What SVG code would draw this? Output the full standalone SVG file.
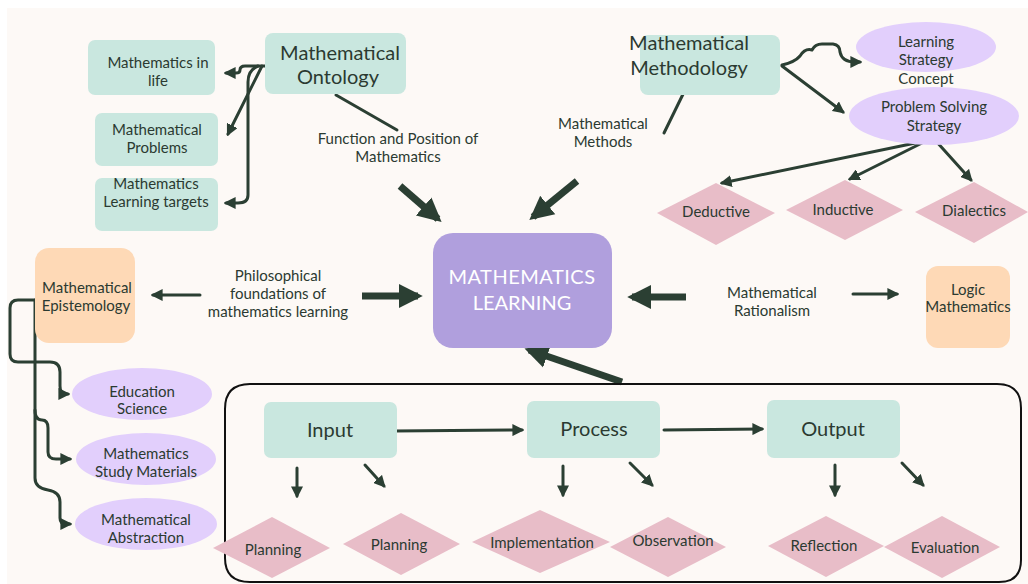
<svg xmlns="http://www.w3.org/2000/svg" width="1028" height="584" viewBox="0 0 1028 584">
<style>
.bg{fill:#fdf9f6}
.teal{fill:#c9e7df}
.lav{fill:#e2cffc}
.pink{fill:#e8bdc8}
.org{fill:#fed9b6}
.t{font-family:"Lato","Open Sans",sans-serif;fill:#2b3a31;text-anchor:middle}
.s15{font-size:15px}
.s14{font-size:14px}
.s20{font-size:20px}
.ln{fill:none;stroke:#2b3f33;stroke-width:3;stroke-linecap:round;stroke-linejoin:round}
.thick{fill:none;stroke:#2b3f33;stroke-width:7}
</style>
<defs>
<marker id="ah" viewBox="0 0 10 10" refX="8" refY="5" markerWidth="4" markerHeight="4" orient="auto" markerUnits="strokeWidth">
<path d="M0,0 L10,5 L0,10 z" fill="#2b3f33"/>
</marker>
<marker id="big" viewBox="0 0 10 10" refX="8" refY="5" markerWidth="3.4" markerHeight="3.6" orient="auto" markerUnits="strokeWidth">
<path d="M0,0 L10,5 L0,10 z" fill="#2b3f33"/>
</marker>
</defs>
<rect x="0" y="0" width="1028" height="584" fill="#ffffff"/>
<rect class="bg" x="7" y="8" width="1021" height="576"/>

<g id="connectors">
<!-- ontology -->
<path class="ln" d="M265,66 L245,66 Q240,66 240,70 Q240,73 236,73 L226,73" marker-end="url(#ah)"/>
<path class="ln" d="M262,66 L228,134" marker-end="url(#ah)"/>
<path class="ln" d="M258,66 Q248,70 248,82 L248,195 Q248,203 238,203 L226,203" marker-end="url(#ah)"/>
<path class="ln" d="M336,95 L397,130"/>
<path class="thick" d="M400,186 L438,219" marker-end="url(#big)"/>
<!-- methodology -->
<path class="ln" d="M688,84 L664,133"/>
<path class="thick" d="M577,181 L533,217" marker-end="url(#big)"/>
<path class="ln" d="M782,65 Q795,62 800,56 Q805,48 812,50 Q815,44 822,44 L833,44 Q840,45 840,52 Q842,62 855,62 L860,62" marker-end="url(#ah)"/>
<path class="ln" d="M782,66 L843,112" marker-end="url(#ah)"/>
<path class="ln" d="M930,140 L722,183" marker-end="url(#ah)"/>
<path class="ln" d="M928,140 L850,179" marker-end="url(#ah)"/>
<path class="ln" d="M935,140 L971,180" marker-end="url(#ah)"/>
<!-- epistemology -->
<path class="ln" d="M200,295 L153,295" marker-end="url(#ah)"/>
<path class="thick" d="M362,296 L418,296" marker-end="url(#big)"/>
<path class="ln" d="M35,300 L18,300 Q10,300 10,308 L10,354 Q10,362 18,362 L50,362 Q60,362 60,372 L60,386 Q60,394 66,394 L68,394" marker-end="url(#ah)"/>
<path class="ln" d="M35,300 L35,410 Q35,420 42,420 Q48,420 48,428 L48,452 Q48,459 56,459 L70,459" marker-end="url(#ah)"/>
<path class="ln" d="M35,410 L35,478 Q35,488 48,490 Q60,492 60,502 L60,518 Q60,524 66,524 L70,524" marker-end="url(#ah)"/>
<!-- rationalism -->
<path class="thick" d="M686,297 L632,297" marker-end="url(#big)"/>
<path class="ln" d="M853,294 L897,294" marker-end="url(#ah)"/>
<!-- process box to center -->
<path class="thick" d="M622,382 L529,350" marker-end="url(#big)"/>
<!-- flow -->
<path class="ln" d="M394,431 L522,430" marker-end="url(#ah)"/>
<path class="ln" d="M664,430 L762,429" marker-end="url(#ah)"/>
<path class="ln" d="M297,468 L297,496" marker-end="url(#ah)"/>
<path class="ln" d="M365,465 L384,486" marker-end="url(#ah)"/>
<path class="ln" d="M563,466 L563,495" marker-end="url(#ah)"/>
<path class="ln" d="M630,463 L652,485" marker-end="url(#ah)"/>
<path class="ln" d="M835,465 L835,495" marker-end="url(#ah)"/>
<path class="ln" d="M902,463 L923,485" marker-end="url(#ah)"/>
</g>

<g id="frame">
<path d="M250,384 L997,384 Q1021,384 1021,408 L1021,560 Q1021,582 999,582 L250,582 Q225,582 225,558 L225,409 Q225,384 250,384 Z" fill="none" stroke="#111" stroke-width="2"/>
</g>

<g id="ontology"><rect class="teal" x="265" y="33" width="141" height="61" rx="8"/>
<text class="t s20" x="340" y="60">Mathematical</text><text class="t s20" x="338" y="84">Ontology</text></g>
<g id="life"><rect class="teal" x="88" y="40" width="127" height="55" rx="7"/>
<text class="t s15" x="158" y="68">Mathematics in</text><text class="t s15" x="158" y="86">life</text></g>
<g id="problems"><rect class="teal" x="95" y="113" width="123" height="53" rx="7"/>
<text class="t s15" x="157" y="135">Mathematical</text><text class="t s15" x="157" y="153">Problems</text></g>
<g id="targets"><rect class="teal" x="95" y="178" width="123" height="53" rx="7"/>
<text class="t s15" x="156" y="189">Mathematics</text><text class="t s15" x="156" y="207">Learning targets</text></g>
<g id="lbl-function"><text class="t s15" x="398" y="144">Function and Position of</text><text class="t s15" x="398" y="162">Mathematics</text></g>

<g id="methodology"><rect class="teal" x="640" y="35" width="140" height="60" rx="8"/>
<text class="t s20" x="689" y="50">Mathematical</text><text class="t s20" x="689" y="75">Methodology</text></g>
<g id="lbl-methods"><text class="t s15" x="603" y="129">Mathematical</text><text class="t s15" x="603" y="147">Methods</text></g>
<g id="lsc"><ellipse class="lav" cx="926" cy="47" rx="70" ry="25"/>
<text class="t s15" x="926" y="47">Learning</text><text class="t s15" x="926" y="65">Strategy</text><text class="t s15" x="926" y="84">Concept</text></g>
<g id="pss"><ellipse class="lav" cx="934" cy="116" rx="85" ry="29"/>
<text class="t s15" x="934" y="112">Problem Solving</text><text class="t s15" x="934" y="131">Strategy</text></g>
<g id="deductive"><polygon class="pink" points="657,213 716,183 775,213 716,245"/><text class="t s15" x="716" y="217">Deductive</text></g>
<g id="inductive"><polygon class="pink" points="786,210 845,180 903,210 845,240"/><text class="t s15" x="843" y="215">Inductive</text></g>
<g id="dialectics"><polygon class="pink" points="915,212 974,182 1028,212 974,243"/><text class="t s15" x="974" y="216">Dialectics</text></g>

<g id="center"><rect x="433" y="233" width="179" height="115" rx="20" fill="#b09fdd"/>
<text class="t s20" x="522" y="284" style="fill:#fff;letter-spacing:0.5px">MATHEMATICS</text><text class="t s20" x="522" y="310" style="fill:#fff">LEARNING</text></g>

<g id="epistemology"><rect class="org" x="35" y="248" width="100" height="95" rx="14"/>
<text class="t s15" x="87" y="293">Mathematical</text><text class="t s15" x="86" y="311">Epistemology</text></g>
<g id="lbl-phil"><text class="t s15" x="278" y="281">Philosophical</text><text class="t s15" x="278" y="299">foundations of</text><text class="t s15" x="278" y="317">mathematics learning</text></g>
<g id="edu"><ellipse class="lav" cx="142" cy="394" rx="70" ry="26"/>
<text class="t s15" x="142" y="397">Education</text><text class="t s15" x="142" y="414">Science</text></g>
<g id="study"><ellipse class="lav" cx="146" cy="459" rx="70" ry="26"/>
<text class="t s15" x="146" y="459">Mathematics</text><text class="t s15" x="146" y="477">Study Materials</text></g>
<g id="abstraction"><ellipse class="lav" cx="146" cy="524" rx="71" ry="26"/>
<text class="t s15" x="146" y="525">Mathematical</text><text class="t s15" x="146" y="543">Abstraction</text></g>

<g id="lbl-rational"><text class="t s15" x="772" y="298">Mathematical</text><text class="t s15" x="772" y="316">Rationalism</text></g>
<g id="logic"><rect class="org" x="926" y="266" width="84" height="82" rx="12"/>
<text class="t s15" x="968" y="295">Logic</text><text class="t s15" x="968" y="312">Mathematics</text></g>

<g id="input"><rect class="teal" x="264" y="402" width="133" height="56" rx="7"/><text class="t s20" x="330" y="437">Input</text></g>
<g id="process"><rect class="teal" x="527" y="401" width="133" height="57" rx="7"/><text class="t s20" x="594" y="436">Process</text></g>
<g id="output"><rect class="teal" x="767" y="400" width="133" height="58" rx="7"/><text class="t s20" x="833" y="436">Output</text></g>

<g id="planning1"><polygon class="pink" points="213,548 272,517 330,548 272,578"/><text class="t s15" x="273" y="555">Planning</text></g>
<g id="planning2"><polygon class="pink" points="343,544 401,513 460,544 401,575"/><text class="t s15" x="399" y="550">Planning</text></g>
<g id="implementation"><polygon class="pink" points="472,542 540,510 610,542 540,573"/><text class="t s15" x="542" y="548">Implementation</text></g>
<g id="observation"><polygon class="pink" points="610,547 668,517 726,547 668,577"/><text class="t s15" x="673" y="546">Observation</text></g>
<g id="reflection"><polygon class="pink" points="768,546 826,516 884,546 826,577"/><text class="t s15" x="824" y="551">Reflection</text></g>
<g id="evaluation"><polygon class="pink" points="884,547 942,516 1000,547 942,578"/><text class="t s15" x="945" y="553">Evaluation</text></g>
</svg>
